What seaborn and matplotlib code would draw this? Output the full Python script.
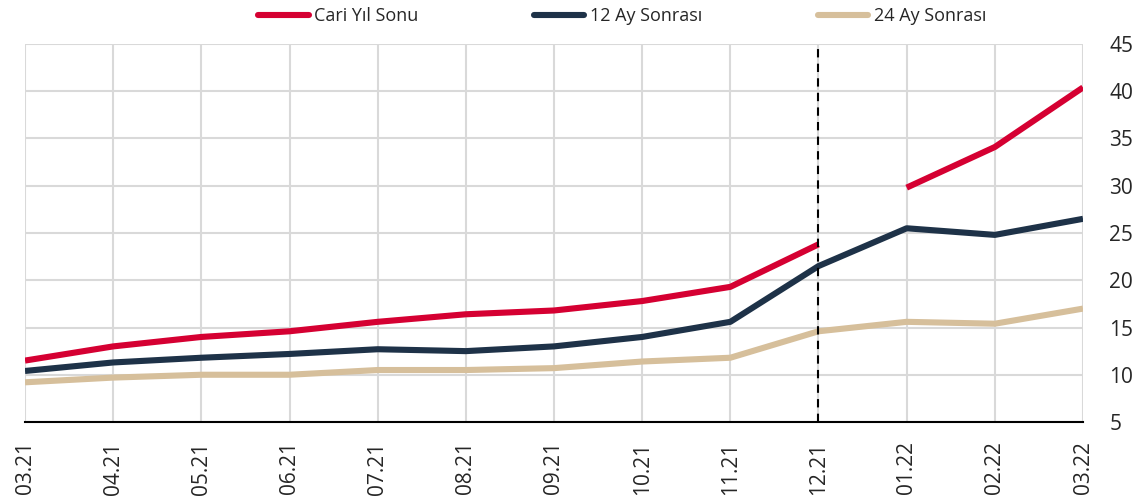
import numpy as np
import pandas as pd
import matplotlib
matplotlib.use("Agg")
import matplotlib.pyplot as plt
from matplotlib.lines import Line2D
import seaborn as sns

# --- DATA ---
months = ["03.21", "04.21", "05.21", "06.21", "07.21", "08.21", "09.21",
          "10.21", "11.21", "12.21", "01.22", "02.22", "03.22"]
cari_yil_sonu = [11.5, 13.0, 14.0, 14.6, 15.6, 16.4, 16.8, 17.8, 19.3, 23.8,
                 np.nan, np.nan, np.nan]
cari_yil_sonu_2022 = [np.nan, np.nan, np.nan, np.nan, np.nan, np.nan, np.nan,
                      np.nan, np.nan, np.nan, 29.8, 34.1, 40.4]
ay12_sonrasi = [10.4, 11.3, 11.8, 12.2, 12.7, 12.5, 13.0, 14.0, 15.6, 21.5,
                25.5, 24.8, 26.5]
ay24_sonrasi = [9.2, 9.7, 10.0, 10.0, 10.5, 10.5, 10.7, 11.4, 11.8, 14.6,
                15.6, 15.4, 17.0]
series_names = ["Cari Yıl Sonu", "12 Ay Sonrası", "24 Ay Sonrası"]
colors = ["#D50032", "#1E3248", "#D6BF9B"]

# --- LONG TABLE (each unbroken run is its own unit) ---
rows = []
for name, seg, vals in [(series_names[0], 0, cari_yil_sonu),
                        (series_names[0], 1, cari_yil_sonu_2022),
                        (series_names[1], 0, ay12_sonrasi),
                        (series_names[2], 0, ay24_sonrasi)]:
    for i, v in enumerate(vals):
        if not np.isnan(v):
            rows.append({"x": i, "value": v, "series": name, "seg": f"{name}_{seg}"})
df = pd.DataFrame(rows)

sns.set_style("white")
plt.rcParams["font.family"] = ["Open Sans", "DejaVu Sans"]

fig = plt.figure(figsize=(11.35, 5.04), dpi=100)
ax = fig.add_axes([25 / 1135, (504 - 422) / 504, 1058 / 1135, 378 / 504])

palette = dict(zip(series_names, colors))
# draw back-to-front: tan, navy, red
for name in series_names[::-1]:
    sub = df[df["series"] == name]
    sns.lineplot(data=sub, x="x", y="value", units="seg", estimator=None,
                 color=palette[name], linewidth=4.4, ax=ax, legend=False,
                 solid_capstyle="butt", zorder=3)

# dashed separator at 12.21
ax.axvline(months.index("12.21"), color="black", linestyle=(0, (4, 3)),
           linewidth=1.5, zorder=4)

ax.set_xlim(0, len(months) - 1)
ax.set_ylim(5, 45)
ax.set_xticks(range(len(months)))
ax.set_xticklabels(months, rotation=90, fontsize=15)
ax.set_yticks(range(5, 50, 5))
ax.yaxis.tick_right()
ax.tick_params(axis="y", length=0, labelsize=15, pad=19)
ax.tick_params(axis="x", length=8, width=1.5, color="black", direction="out", pad=6)
ax.set_xlabel("")
ax.set_ylabel("")
ax.grid(True, color="#D9D9D9", linewidth=1.5, zorder=0)
ax.set_axisbelow(True)
for side in ["top", "left", "right"]:
    ax.spines[side].set_visible(False)
ax.spines["bottom"].set_color("black")
ax.spines["bottom"].set_linewidth(1.5)

handles = [Line2D([0], [0], color=c, linewidth=4.4, solid_capstyle="round")
           for c in colors]
fig.legend(handles, series_names, loc="center", bbox_to_anchor=(0.548, 1 - 16 / 504),
           ncol=3, frameon=False, fontsize=13, handlelength=2.8,
           handletextpad=0.3, columnspacing=6.4, borderpad=0, borderaxespad=0)

fig.savefig("out.png", dpi=100)
